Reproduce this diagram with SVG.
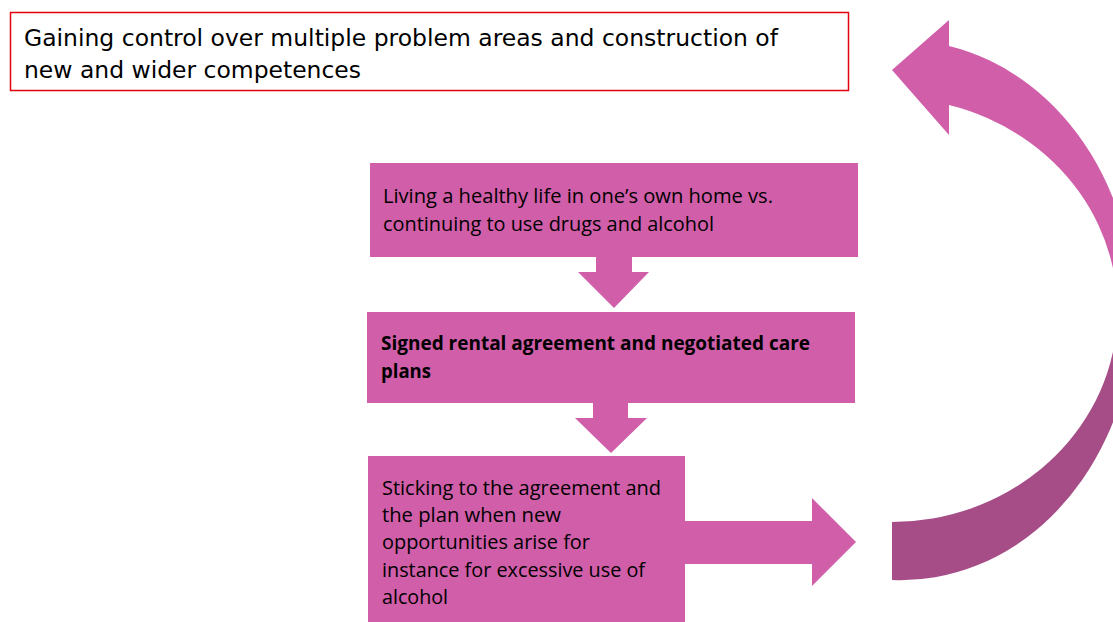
<svg xmlns="http://www.w3.org/2000/svg" width="1113" height="622" viewBox="0 0 1113 622">
<defs>
<linearGradient id="curveGrad" gradientUnits="userSpaceOnUse" x1="0" y1="265" x2="0" y2="365">
<stop offset="0" stop-color="#D05EA8"/>
<stop offset="1" stop-color="#A64D87"/>
</linearGradient>
<style>
.box{fill:#D05EA8;}
.arr{fill:#D05EA8;}
.t1{font-family:"DejaVu Sans","Liberation Sans",sans-serif;font-size:23px;fill:#000;}
.t2{font-family:"Open Sans","Liberation Sans",sans-serif;font-size:20px;fill:#000;}
.t2b{font-family:"Open Sans","Liberation Sans",sans-serif;font-size:20px;font-weight:bold;fill:#000;}
</style>
</defs>
<rect width="1113" height="622" fill="#FFFFFF"/>

<g id="goal">
<rect x="10.5" y="12.5" width="838" height="78" fill="#FFFFFF" stroke="#E3000F" stroke-width="1.5"/>
<text class="t1" x="24" y="46" textLength="754" lengthAdjust="spacingAndGlyphs">Gaining control over multiple problem areas and construction of</text>
<text class="t1" x="24" y="78" textLength="337" lengthAdjust="spacingAndGlyphs">new and wider competences</text>
</g>

<g id="node1">
<rect class="box" x="370" y="163" width="488" height="94"/>
<text class="t2" x="383" y="203" textLength="390" lengthAdjust="spacingAndGlyphs">Living a healthy life in one’s own home vs.</text>
<text class="t2" x="383" y="231" textLength="331" lengthAdjust="spacingAndGlyphs">continuing to use drugs and alcohol</text>
</g>

<g id="node2">
<rect class="box" x="367" y="312" width="488" height="91"/>
<text class="t2b" x="381" y="350" textLength="429" lengthAdjust="spacingAndGlyphs">Signed rental agreement and negotiated care</text>
<text class="t2b" x="381" y="378" textLength="50" lengthAdjust="spacingAndGlyphs">plans</text>
</g>

<g id="node3">
<rect class="box" x="368" y="456" width="317" height="170"/>
<text class="t2" x="382" y="495" textLength="279" lengthAdjust="spacingAndGlyphs">Sticking to the agreement and</text>
<text class="t2" x="382" y="522" textLength="179" lengthAdjust="spacingAndGlyphs">the plan when new</text>
<text class="t2" x="382" y="549" textLength="208" lengthAdjust="spacingAndGlyphs">opportunities arise for</text>
<text class="t2" x="382" y="577" textLength="263" lengthAdjust="spacingAndGlyphs">instance for excessive use of</text>
<text class="t2" x="382" y="604" textLength="66" lengthAdjust="spacingAndGlyphs">alcohol</text>
</g>

<g id="connectors">
<path class="arr" d="M596,257 L632,257 L632,272 L649,272 L614,308 L578,272 L596,272 Z"/>
<path class="arr" d="M593,403 L628,403 L628,418 L647,418 L611,453 L575,418 L593,418 Z"/>
<path class="arr" d="M685,521 L812,521 L812,498 L856,542 L812,586 L812,564 L685,564 Z"/>
<path fill="url(#curveGrad)" d="M892,70 L949,20 L949,46 A233 270 0 0 1 892,580 L892,522 A226 212 0 0 0 949,105 L949,135 Z"/>
</g>
</svg>
